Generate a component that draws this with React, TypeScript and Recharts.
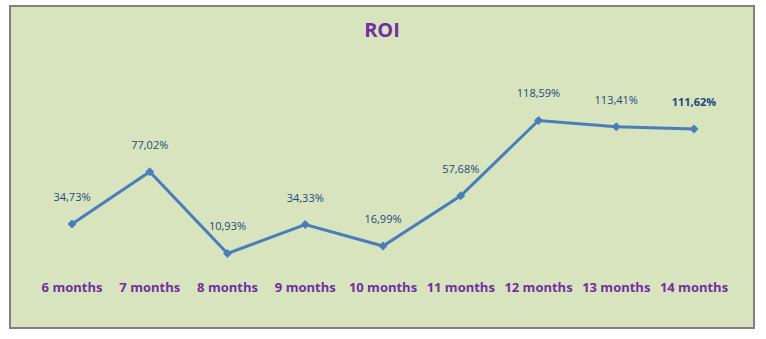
import { LineChart, Line, XAxis, YAxis, LabelList } from 'recharts'

const months = ['6 months', '7 months', '8 months', '9 months', '10 months', '11 months', '12 months', '13 months', '14 months']
const roi = [34.73, 77.02, 10.93, 34.33, 16.99, 57.68, 118.59, 113.41, 111.62]

const data = months.map((m, i) => ({ month: m, roi: roi[i] }))

const fmt = (v: number) => `${v.toFixed(2).replace('.', ',')}%`

function Diamond({ cx, cy }: { cx?: number; cy?: number }) {
  if (cx == null || cy == null) return null
  const r = 4.5
  return <path d={`M${cx},${cy - r}L${cx + r},${cy}L${cx},${cy + r}L${cx - r},${cy}Z`} fill="#4A7EBB" />
}

function RoiLabel(props: any) {
  const { x, y, value, index } = props
  const last = index === roi.length - 1
  return (
    <text
      x={x}
      y={y - 26}
      textAnchor="middle"
      dominantBaseline="middle"
      fontSize={11}
      fontWeight={last ? 700 : 400}
      fill="#1F497D"
      fontFamily="'Open Sans', sans-serif"
    >
      {fmt(value)}
    </text>
  )
}

export default function App() {
  return (
    <div
      style={{
        position: 'absolute',
        left: 9,
        top: 5,
        width: 742,
        height: 320,
        border: '2px solid #808080',
        background: '#D7E4BD',
      }}
    >
      <div
        style={{
          position: 'absolute',
          top: 9,
          width: '100%',
          textAlign: 'center',
          fontFamily: "'Open Sans', sans-serif",
          fontWeight: 700,
          fontSize: 20,
          color: '#7030A0',
        }}
      >
        ROI
      </div>
      <LineChart width={742} height={320} data={data} margin={{ top: 87, right: 59, bottom: 0, left: 61 }}>
        <XAxis
          dataKey="month"
          axisLine={false}
          tickLine={false}
          height={60}
          tickMargin={10}
          tick={{ fill: '#7030A0', fontSize: 13, fontWeight: 700, fontFamily: "'Open Sans', sans-serif" }}
          interval={0}
        />
        <YAxis hide domain={[0, 140]} />
        <Line
          type="linear"
          dataKey="roi"
          stroke="#4A7EBB"
          strokeWidth={3}
          dot={<Diamond />}
          activeDot={false}
          isAnimationActive={false}
        >
          <LabelList dataKey="roi" content={<RoiLabel />} />
        </Line>
      </LineChart>
    </div>
  )
}
